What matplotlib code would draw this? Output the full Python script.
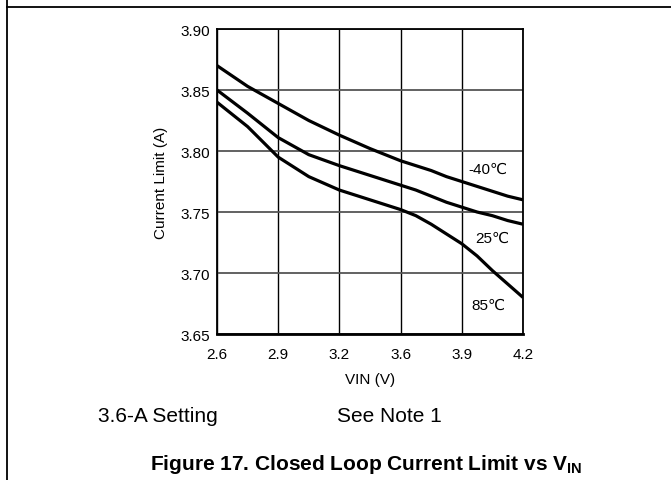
import numpy as np
import matplotlib
matplotlib.use('Agg')
import matplotlib.pyplot as plt
from matplotlib.lines import Line2D

plt.rcParams['font.family'] = ['Liberation Sans', 'DejaVu Sans']
plt.rcParams['mathtext.fontset'] = 'custom'
plt.rcParams['mathtext.rm'] = 'Liberation Sans'
plt.rcParams['mathtext.bf'] = 'Liberation Sans:bold'

# Tick values on the x axis (equally spaced on the chart, not in volts)
vin_ticks = [2.6, 2.9, 3.2, 3.6, 3.9, 4.2]
y_ticks = [3.65, 3.70, 3.75, 3.80, 3.85, 3.90]

# Curves
vin = [2.6, 2.75, 2.9, 3.05, 3.2, 3.4, 3.6, 3.675, 3.75, 3.825, 3.9, 3.975, 4.05, 4.125, 4.2]
i_m40 = [3.870, 3.853, 3.839, 3.825, 3.813, 3.802, 3.792, 3.788, 3.784, 3.779, 3.775, 3.771, 3.767, 3.763, 3.760]
i_25 = [3.850, 3.831, 3.811, 3.797, 3.788, 3.780, 3.772, 3.768, 3.763, 3.758, 3.754, 3.750, 3.747, 3.743, 3.740]
i_85 = [3.840, 3.820, 3.795, 3.779, 3.768, 3.760, 3.752, 3.747, 3.740, 3.732, 3.724, 3.714, 3.702, 3.691, 3.680]

labels = ['-40\u2103', '25\u2103', '85\u2103']
label_vin = [4.03, 4.05, 4.03]
label_i = [3.7855, 3.729, 3.674]

# Map volts to even tick spacing
def to_pos(v):
    return np.interp(v, vin_ticks, np.arange(len(vin_ticks)))

fig = plt.figure(figsize=(6.71, 4.81), dpi=100)
ax = fig.add_axes([0.3234, 0.3035, 0.4560, 0.6341])

for series in [i_m40, i_25, i_85]:
    ax.plot(to_pos(vin), series, color='black', lw=2.3, solid_capstyle='butt', zorder=3)

for txt, v, c in zip(labels, label_vin, label_i):
    ax.text(to_pos(v), c, txt, fontsize=11, ha='center', va='center')

ax.set_xlim(0, len(vin_ticks) - 1)
ax.set_ylim(3.65, 3.90)
ax.set_xticks(np.arange(len(vin_ticks)))
ax.set_xticklabels(['%.1f' % v for v in vin_ticks])
ax.set_yticks(y_ticks)
ax.set_yticklabels(['%.2f' % v for v in y_ticks])
ax.tick_params(length=0, labelsize=11)
ax.tick_params(axis='x', pad=9)
ax.tick_params(axis='y', pad=5)

ax.xaxis.grid(True, color='black', lw=1.0)
ax.yaxis.grid(True, color='#555555', lw=1.3)
for s in ax.spines.values():
    s.set_linewidth(1.3)
ax.spines['bottom'].set_linewidth(2)

ax.set_xlabel('VIN (V)', fontsize=11, labelpad=8)
ax.set_ylabel('Current Limit (A)', fontsize=11, labelpad=9)

# Notes and caption
fig.text(98 / 671, 1 - 417 / 481, '3.6-A Setting', fontsize=15, va='center')
fig.text(337 / 671, 1 - 417 / 481, 'See Note 1', fontsize=15, va='center')
fig.text(150 / 671, 1 - 464 / 481, r'Figure 17. Closed Loop Current Limit vs V$_\mathbf{IN}$',
         fontsize=15, fontweight='bold', va='center')

# Page frame lines
fig.add_artist(Line2D([7 / 671, 1], [1 - 8 / 481, 1 - 8 / 481], color='black', lw=1.3))
fig.add_artist(Line2D([7 / 671, 7 / 671], [0, 1], color='black', lw=1.3))

fig.savefig('out.png', dpi=100)
